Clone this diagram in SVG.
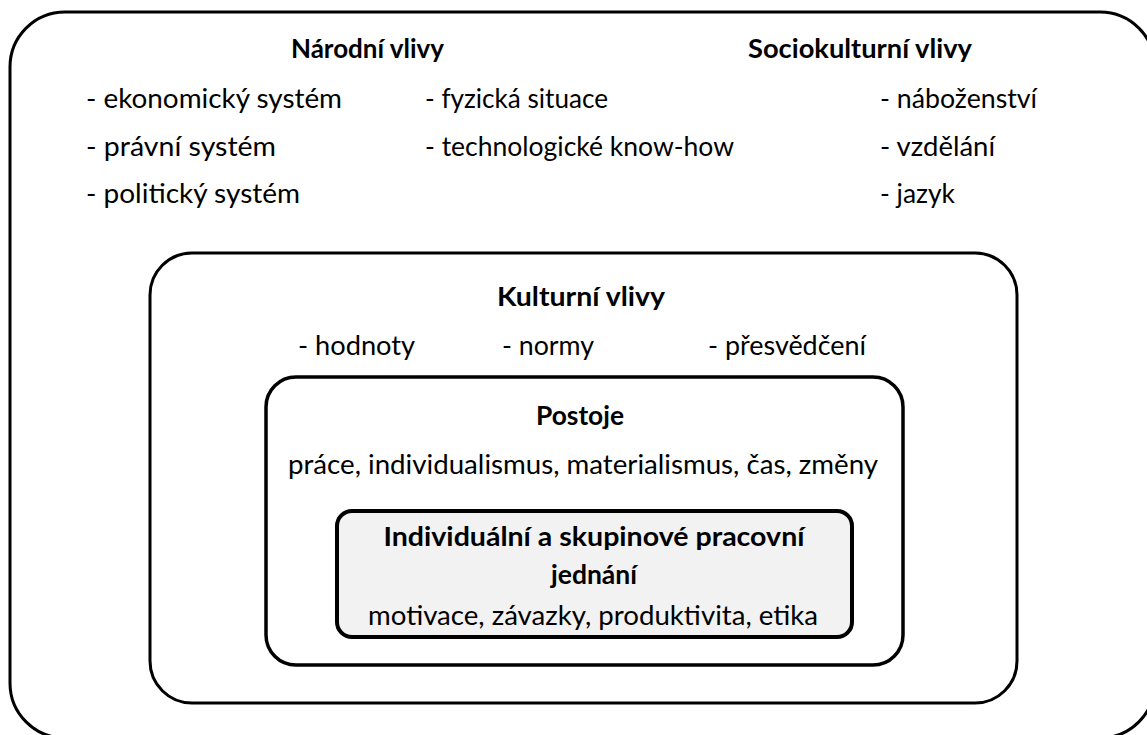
<svg xmlns="http://www.w3.org/2000/svg" width="1147" height="735" viewBox="0 0 1147 735">
<style>
.box{fill:#fff;stroke:#000;}
.t{font-family:Lato,"Open Sans","Liberation Sans",sans-serif;font-size:26px;fill:#000;}
.b{font-weight:bold;}
.c{text-anchor:middle;}
</style>
<rect width="1147" height="735" fill="#fff"/>
<g id="narodni-vlivy">
<rect class="box" x="10" y="12" width="1145" height="726" rx="55" ry="55" stroke-width="3"/>
<text class="t b" x="291" y="58" textLength="153" lengthAdjust="spacingAndGlyphs">Národní vlivy</text>
<text class="t" x="86" y="108" textLength="256" lengthAdjust="spacingAndGlyphs">- ekonomický systém</text>
<text class="t" x="86" y="156" textLength="190" lengthAdjust="spacingAndGlyphs">- právní systém</text>
<text class="t" x="86" y="203" textLength="214" lengthAdjust="spacingAndGlyphs">- politický systém</text>
<text class="t" x="425" y="108" textLength="183" lengthAdjust="spacingAndGlyphs">- fyzická situace</text>
<text class="t" x="425" y="156" textLength="309" lengthAdjust="spacingAndGlyphs">- technologické know-how</text>
</g>
<g id="sociokulturni-vlivy">
<text class="t b" x="748" y="58" textLength="224" lengthAdjust="spacingAndGlyphs">Sociokulturní vlivy</text>
<text class="t" x="880" y="108" textLength="157" lengthAdjust="spacingAndGlyphs">- náboženství</text>
<text class="t" x="880" y="156" textLength="115" lengthAdjust="spacingAndGlyphs">- vzdělání</text>
<text class="t" x="880" y="203" textLength="75" lengthAdjust="spacingAndGlyphs">- jazyk</text>
</g>
<g id="kulturni-vlivy">
<rect class="box" x="150" y="253" width="867" height="450" rx="42" ry="42" stroke-width="3"/>
<text class="t b c" x="581" y="306" textLength="168" lengthAdjust="spacingAndGlyphs">Kulturní vlivy</text>
<text class="t" x="298" y="355" textLength="117" lengthAdjust="spacingAndGlyphs">- hodnoty</text>
<text class="t" x="502" y="355" textLength="92" lengthAdjust="spacingAndGlyphs">- normy</text>
<text class="t" x="708" y="355" textLength="158" lengthAdjust="spacingAndGlyphs">- přesvědčení</text>
</g>
<g id="postoje">
<rect class="box" x="266" y="377" width="637" height="288" rx="30" ry="30" stroke-width="3.5"/>
<text class="t b c" x="580" y="425" textLength="88" lengthAdjust="spacingAndGlyphs">Postoje</text>
<text class="t c" x="583" y="474" textLength="590" lengthAdjust="spacingAndGlyphs">práce, individualismus, materialismus, čas, změny</text>
</g>
<g id="jednani">
<rect x="337" y="511" width="515" height="126" rx="15" ry="15" fill="#f2f2f2" stroke="#000" stroke-width="4"/>
<text class="t b c" x="594" y="546" textLength="421" lengthAdjust="spacingAndGlyphs">Individuální a skupinové pracovní</text>
<text class="t b c" x="594" y="584" textLength="86" lengthAdjust="spacingAndGlyphs">jednání</text>
<text class="t c" x="593" y="625" textLength="450" lengthAdjust="spacingAndGlyphs">motivace, závazky, produktivita, etika</text>
</g>
<g id="connectors"/>
</svg>
